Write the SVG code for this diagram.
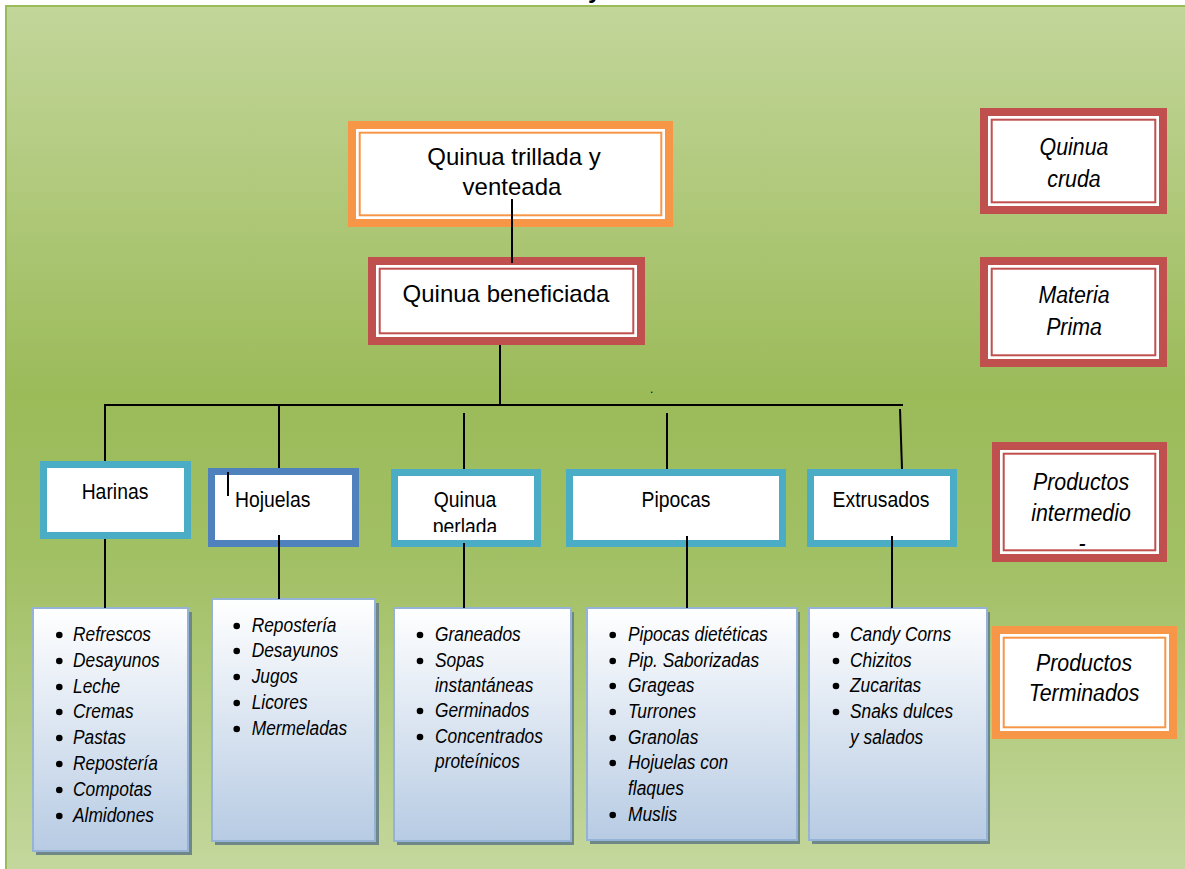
<svg xmlns="http://www.w3.org/2000/svg" width="1185" height="869" viewBox="0 0 1185 869">
<defs>
<linearGradient id="bg" x1="0" y1="5" x2="0" y2="869" gradientUnits="userSpaceOnUse">
<stop offset="0" stop-color="#c3d69b"/>
<stop offset="0.45" stop-color="#9bbb59"/>
<stop offset="0.65" stop-color="#a2c065"/>
<stop offset="1" stop-color="#c4d79d"/>
</linearGradient>
<linearGradient id="lst" x1="0" y1="0" x2="0" y2="1">
<stop offset="0" stop-color="#ffffff"/>
<stop offset="1" stop-color="#b7cbe3"/>
</linearGradient>
<clipPath id="clipPerl"><rect x="398" y="475" width="136" height="57"/></clipPath>
<style>
.t{font-family:"Liberation Sans",Arial,sans-serif;fill:#000}
.top{font-size:24px;text-anchor:middle}
.mid{font-size:22px;text-anchor:middle}
.lab{font-size:24px;font-style:italic;text-anchor:middle}
.li{font-size:19.5px;font-style:italic}
.or{fill:#f79646}
.rd{fill:#c0504d}
.w{fill:#ffffff}
.tho{fill:#fff;stroke:#f79646;stroke-width:2}
.thr{fill:#fff;stroke:#c0504d;stroke-width:2}
.ib{fill:#fff;stroke:#4bacc6;stroke-width:7}
.ib2{fill:#fff;stroke:#4f81bd;stroke-width:7}
.sh{fill:#6f8786}
.lb{fill:url(#lst);stroke:#95b3d7;stroke-width:2}
.con{stroke:#000;stroke-width:2;fill:none}
</style>
</defs>
<rect x="0" y="0" width="1185" height="869" fill="#ffffff"/>
<rect x="6" y="6" width="1190" height="875" fill="url(#bg)" stroke="#9bbb59" stroke-width="2"/>
<text class="t" x="588" y="-2" font-size="24" font-weight="bold">y</text>

<g id="n-trillada">
<rect class="or" x="348" y="121" width="325" height="106"/>
<rect class="w" x="356" y="129" width="309" height="90"/>
<rect class="tho" x="359.7" y="132.7" width="301.6" height="82.6"/>
<text class="t top" x="514" y="165">Quinua trillada y</text>
<text class="t top" x="512" y="195">venteada</text>
</g>

<g id="n-beneficiada">
<rect class="rd" x="368" y="257" width="277" height="88"/>
<rect class="w" x="376" y="265" width="261" height="72"/>
<rect class="thr" x="379.7" y="268.7" width="253.6" height="64.6"/>
<text class="t top" x="506" y="302">Quinua beneficiada</text>
</g>

<g id="n-cruda">
<rect class="rd" x="980" y="108" width="187" height="106"/>
<rect class="w" x="988" y="116" width="171" height="90"/>
<rect class="thr" x="991.7" y="119.7" width="163.6" height="82.6"/>
<text class="t lab" transform="translate(1074,155) scale(0.89,1)">Quinua</text>
<text class="t lab" transform="translate(1074,187) scale(0.89,1)">cruda</text>
</g>

<g id="n-materia">
<rect class="rd" x="980" y="257" width="187" height="110"/>
<rect class="w" x="988" y="265" width="171" height="94"/>
<rect class="thr" x="991.7" y="268.7" width="163.6" height="86.6"/>
<text class="t lab" transform="translate(1074,303) scale(0.89,1)">Materia</text>
<text class="t lab" transform="translate(1074,335) scale(0.89,1)">Prima</text>
</g>

<g id="n-intermedios">
<rect class="rd" x="992" y="442" width="175" height="120"/>
<rect class="w" x="1000" y="450" width="159" height="104"/>
<rect class="thr" x="1003.7" y="453.7" width="151.6" height="96.6"/>
<text class="t lab" transform="translate(1081,490) scale(0.89,1)">Productos</text>
<text class="t lab" transform="translate(1081,521) scale(0.89,1)">intermedio</text>
<text class="t lab" transform="translate(1082,551) scale(0.89,1)">-</text>
</g>

<g id="n-terminados">
<rect class="or" x="992" y="626" width="185" height="113"/>
<rect class="w" x="1000" y="634" width="169" height="97"/>
<rect class="tho" x="1003.7" y="637.7" width="161.6" height="89.6"/>
<text class="t lab" transform="translate(1084,671) scale(0.89,1)">Productos</text>
<text class="t lab" transform="translate(1084,701) scale(0.89,1)">Terminados</text>
</g>

<g id="n-harinas">
<rect class="ib" x="43.5" y="464.5" width="144" height="71"/>
<text class="t mid" transform="translate(115,499) scale(0.88,1)">Harinas</text>
</g>

<g id="n-hojuelas">
<rect class="ib2" x="211.5" y="471.5" width="144" height="72"/>
<text class="t" font-size="22" transform="translate(235,507) scale(0.88,1)">Hojuelas</text>
</g>

<g id="n-perlada">
<rect class="ib" x="394.5" y="472.5" width="143" height="71"/>
<text class="t mid" transform="translate(465,507) scale(0.88,1)">Quinua</text>
<g clip-path="url(#clipPerl)"><text class="t mid" transform="translate(465,534) scale(0.88,1)">perlada</text></g>
</g>

<g id="n-pipocas">
<rect class="ib" x="569.5" y="472.5" width="213" height="71"/>
<text class="t mid" transform="translate(676,507) scale(0.88,1)">Pipocas</text>
</g>

<g id="n-extrusados">
<rect class="ib" x="810.5" y="472.5" width="143" height="71"/>
<text class="t mid" transform="translate(881,507) scale(0.88,1)">Extrusados</text>
</g>

<g id="l-harinas">
<rect class="sh" x="36" y="612" width="156" height="243"/>
<rect class="lb" x="33" y="608" width="155" height="243"/>
<g fill="#000">
<circle cx="59.3" cy="635" r="3.3"/><circle cx="59.3" cy="661" r="3.3"/><circle cx="59.3" cy="687" r="3.3"/><circle cx="59.3" cy="712" r="3.3"/><circle cx="59.3" cy="738" r="3.3"/><circle cx="59.3" cy="764" r="3.3"/><circle cx="59.3" cy="790" r="3.3"/><circle cx="59.3" cy="816" r="3.3"/>
</g>
<text class="t li" transform="translate(73,641) scale(0.89,1)">Refrescos</text>
<text class="t li" transform="translate(73,667) scale(0.89,1)">Desayunos</text>
<text class="t li" transform="translate(73,693) scale(0.89,1)">Leche</text>
<text class="t li" transform="translate(73,718) scale(0.89,1)">Cremas</text>
<text class="t li" transform="translate(73,744) scale(0.89,1)">Pastas</text>
<text class="t li" transform="translate(73,770) scale(0.89,1)">Repostería</text>
<text class="t li" transform="translate(73,796) scale(0.89,1)">Compotas</text>
<text class="t li" transform="translate(73,822) scale(0.89,1)">Almidones</text>
</g>

<g id="l-hojuelas">
<rect class="sh" x="215" y="603" width="164" height="242"/>
<rect class="lb" x="212" y="599" width="163" height="242"/>
<g fill="#000">
<circle cx="236.7" cy="626" r="3.3"/><circle cx="236.7" cy="651" r="3.3"/><circle cx="236.7" cy="677" r="3.3"/><circle cx="236.7" cy="703" r="3.3"/><circle cx="236.7" cy="729" r="3.3"/>
</g>
<text class="t li" transform="translate(251.7,632) scale(0.89,1)">Repostería</text>
<text class="t li" transform="translate(251.7,657) scale(0.89,1)">Desayunos</text>
<text class="t li" transform="translate(251.7,683) scale(0.89,1)">Jugos</text>
<text class="t li" transform="translate(251.7,709) scale(0.89,1)">Licores</text>
<text class="t li" transform="translate(251.7,735) scale(0.89,1)">Mermeladas</text>
</g>

<g id="l-perlada">
<rect class="sh" x="397" y="612" width="177" height="233"/>
<rect class="lb" x="394" y="608" width="177" height="233"/>
<g fill="#000">
<circle cx="420" cy="635" r="3.3"/><circle cx="420" cy="661" r="3.3"/><circle cx="420" cy="711" r="3.3"/><circle cx="420" cy="737" r="3.3"/>
</g>
<text class="t li" transform="translate(435,641) scale(0.89,1)">Graneados</text>
<text class="t li" transform="translate(435,667) scale(0.89,1)">Sopas</text>
<text class="t li" transform="translate(435,692) scale(0.89,1)">instantáneas</text>
<text class="t li" transform="translate(435,717) scale(0.89,1)">Germinados</text>
<text class="t li" transform="translate(435,743) scale(0.89,1)">Concentrados</text>
<text class="t li" transform="translate(435,768) scale(0.89,1)">proteínicos</text>
</g>

<g id="l-pipocas">
<rect class="sh" x="590" y="612" width="210" height="232"/>
<rect class="lb" x="587" y="608" width="210" height="232"/>
<g fill="#000">
<circle cx="612.7" cy="635" r="3.3"/><circle cx="612.7" cy="661" r="3.3"/><circle cx="612.7" cy="686" r="3.3"/><circle cx="612.7" cy="712" r="3.3"/><circle cx="612.7" cy="738" r="3.3"/><circle cx="612.7" cy="763" r="3.3"/><circle cx="612.7" cy="815" r="3.3"/>
</g>
<text class="t li" transform="translate(628,641) scale(0.89,1)">Pipocas dietéticas</text>
<text class="t li" transform="translate(628,667) scale(0.89,1)">Pip. Saborizadas</text>
<text class="t li" transform="translate(628,692) scale(0.89,1)">Grageas</text>
<text class="t li" transform="translate(628,718) scale(0.89,1)">Turrones</text>
<text class="t li" transform="translate(628,744) scale(0.89,1)">Granolas</text>
<text class="t li" transform="translate(628,769) scale(0.89,1)">Hojuelas con</text>
<text class="t li" transform="translate(628,795) scale(0.89,1)">flaques</text>
<text class="t li" transform="translate(628,821) scale(0.89,1)">Muslis</text>
</g>

<g id="l-extrusados">
<rect class="sh" x="812" y="612" width="178" height="232"/>
<rect class="lb" x="809" y="608" width="178" height="232"/>
<g fill="#000">
<circle cx="836" cy="635" r="3.3"/><circle cx="836" cy="661" r="3.3"/><circle cx="836" cy="686" r="3.3"/><circle cx="836" cy="712" r="3.3"/>
</g>
<text class="t li" transform="translate(850,641) scale(0.89,1)">Candy Corns</text>
<text class="t li" transform="translate(850,667) scale(0.89,1)">Chizitos</text>
<text class="t li" transform="translate(850,692) scale(0.89,1)">Zucaritas</text>
<text class="t li" transform="translate(850,718) scale(0.89,1)">Snaks dulces</text>
<text class="t li" transform="translate(850,744) scale(0.89,1)">y salados</text>
</g>

<g id="connectors" class="con">
<path class="con" d="M512 199V263"/>
<path class="con" d="M500 345V405"/>
<path class="con" d="M104 405H903"/>
<path class="con" d="M105 405V461"/>
<path class="con" d="M279 405V468"/>
<path class="con" d="M464 413V469"/>
<path class="con" d="M667 413V469"/>
<path class="con" d="M900 409L902 469"/>
<path class="con" d="M228 472V496"/>
<path class="con" d="M105 539V608"/>
<path class="con" d="M279 535V599"/>
<path class="con" d="M464 543V608"/>
<path class="con" d="M687 536V608"/>
<path class="con" d="M892 536V608"/>
</g>
<text class="t" x="650" y="393" font-size="12">.</text>
</svg>
